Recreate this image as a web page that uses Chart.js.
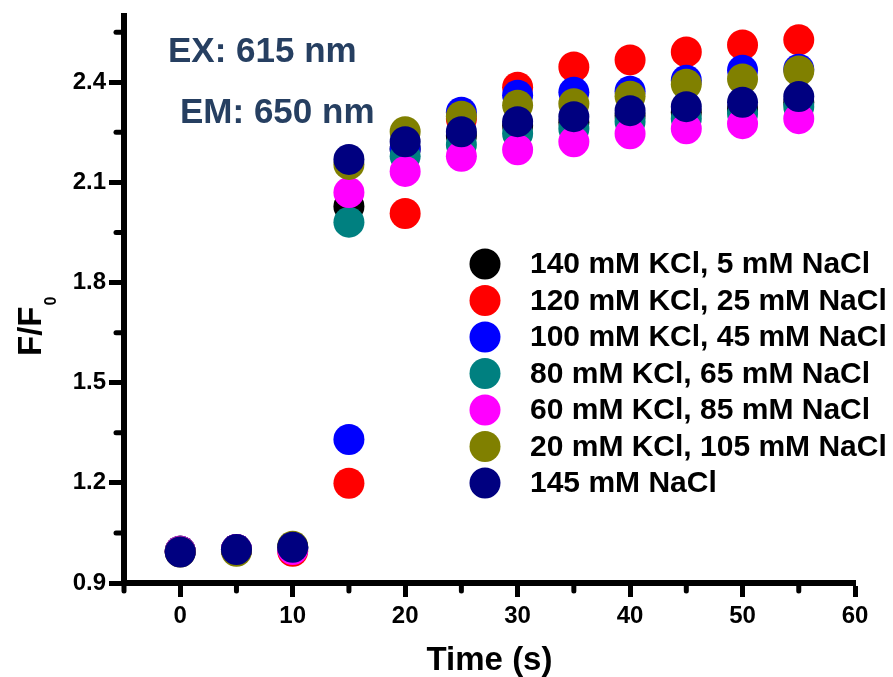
<!DOCTYPE html>
<html>
<head>
<meta charset="utf-8">
<script src="https://cdn.jsdelivr.net/npm/chart.js@4.4.0/dist/chart.umd.min.js"></script>
<style>
  html, body { margin: 0; padding: 0; background: #fff; }
  #wrap { width: 893px; height: 677px; }
</style>
</head>
<body>
<div id="wrap"><canvas id="myChart" width="893" height="677"></canvas></div>
<script>
// data
const times = [0, 5, 10, 15, 20, 25, 30, 35, 40, 45, 50, 55];

const seriesLabels = [
  '140 mM KCl, 5 mM NaCl',
  '120 mM KCl, 25 mM NaCl',
  '100 mM KCl, 45 mM NaCl',
  '80 mM KCl, 65 mM NaCl',
  '60 mM KCl, 85 mM NaCl',
  '20 mM KCl, 105 mM NaCl',
  '145 mM NaCl'
];
const seriesColors = ['#000000', '#ff0000', '#0000ff', '#008080', '#ff00ff', '#808000', '#000080'];

const kcl140 = [0.995, 1.0, 1.005, 2.028, 2.2, 2.24, 2.27, 2.28, 2.3, 2.31, 2.32, 2.34];
const kcl120 = [0.995, 1.0, 0.995, 1.199, 2.007, 2.29, 2.385, 2.446, 2.467, 2.491, 2.512, 2.527];
const kcl100 = [0.995, 1.0, 1.005, 1.33, 2.2, 2.31, 2.361, 2.37, 2.373, 2.406, 2.436, 2.439];
const kcl80 = [0.995, 1.0, 1.005, 1.981, 2.178, 2.213, 2.246, 2.261, 2.282, 2.291, 2.306, 2.327];
const kcl60 = [0.995, 1.0, 1.0, 2.07, 2.133, 2.178, 2.198, 2.222, 2.246, 2.261, 2.276, 2.291];
const kcl20 = [0.993, 0.995, 1.01, 2.154, 2.252, 2.298, 2.331, 2.336, 2.358, 2.394, 2.41, 2.434];
const nacl145 = [0.993, 1.0, 1.007, 2.169, 2.222, 2.252, 2.282, 2.297, 2.315, 2.327, 2.34, 2.357];

const seriesValues = [kcl140, kcl120, kcl100, kcl80, kcl60, kcl20, nacl145];

const xTickValues = [0, 10, 20, 30, 40, 50, 60];
const xMinorTicks = [-5, 5, 15, 25, 35, 45, 55];
const yTickValues = [0.9, 1.2, 1.5, 1.8, 2.1, 2.4];
const yMinorTicks = [1.05, 1.35, 1.65, 1.95, 2.25, 2.55];

const FONT = '"Liberation Sans", Arial, sans-serif';

//plugins
const minorTicks = {
  id: 'minorTicks',
  afterDraw(chart) {
    const { ctx, scales: { x, y }, chartArea } = chart;
    ctx.save();
    ctx.strokeStyle = '#000';
    ctx.lineWidth = 5;
    ctx.lineCap = 'round';
    xMinorTicks.forEach(v => {
      const px = x.getPixelForValue(v);
      ctx.beginPath();
      ctx.moveTo(px, chartArea.bottom);
      ctx.lineTo(px, chartArea.bottom + 8);
      ctx.stroke();
    });
    yMinorTicks.forEach(v => {
      const py = y.getPixelForValue(v);
      ctx.beginPath();
      ctx.moveTo(chartArea.left, py);
      ctx.lineTo(chartArea.left - 8, py);
      ctx.stroke();
    });
    ctx.restore();
  }
};

const extraText = {
  id: 'extraText',
  afterDraw(chart) {
    const ctx = chart.ctx;
    ctx.save();
    // wavelength notes
    ctx.fillStyle = '#263f61';
    ctx.font = 'bold 35px ' + FONT;
    ctx.textBaseline = 'alphabetic';
    ctx.textAlign = 'left';
    ctx.fillText('EX: 615 nm', 168, 62);
    ctx.fillText('EM: 650 nm', 180, 123);

    // y axis title with subscript
    ctx.fillStyle = '#000';
    ctx.translate(41, 356);
    ctx.rotate(-Math.PI / 2);
    ctx.font = 'bold 33px ' + FONT;
    ctx.fillText('F/F', 0, 0);
    const w = ctx.measureText('F/F').width;
    ctx.font = 'bold 16px ' + FONT;
    ctx.fillText('0', w + 1, 15);
    ctx.restore();

    // legend
    ctx.save();
    ctx.font = 'bold 30px ' + FONT;
    ctx.textBaseline = 'middle';
    chart.data.datasets.forEach((ds, i) => {
      const rowY = 264 + i * 36.5;
      ctx.fillStyle = ds.backgroundColor;
      ctx.beginPath();
      ctx.arc(485, rowY, 15.5, 0, Math.PI * 2);
      ctx.fill();
      ctx.fillStyle = '#000';
      ctx.fillText(ds.label, 530, rowY + 1);
    });
    ctx.restore();
  }
};

const datasets = seriesLabels.map((label, i) => ({
  label: label,
  data: times.map((t, j) => ({ x: t, y: seriesValues[i][j] })),
  backgroundColor: seriesColors[i],
  borderWidth: 0,
  pointRadius: 15.5,
  pointHoverRadius: 15.5,
  order: seriesLabels.length - i,
  clip: false
}));

new Chart(document.getElementById('myChart'), {
  type: 'scatter',
  data: { datasets },
  options: {
    responsive: false,
    animation: false,
    devicePixelRatio: 1,
    layout: { padding: { top: 13, right: 38, left: 0, bottom: 0 } },
    plugins: {
      legend: { display: false },
      tooltip: { enabled: false }
    },
    scales: {
      x: {
        type: 'linear',
        min: -5,
        max: 60,
        border: { display: true, width: 6, color: '#000' },
        grid: { drawOnChartArea: false, drawTicks: true, tickLength: 14, tickWidth: 5, tickColor: '#000' },
        ticks: {
          color: '#000',
          padding: 5,
          font: { family: FONT, size: 24, weight: 'bold' }
        },
        title: {
          display: true,
          text: 'Time (s)',
          color: '#000',
          font: { family: FONT, size: 33, weight: 'bold', lineHeight: 1 },
          padding: { top: 0, bottom: 0 }
        },
        afterBuildTicks: scale => { scale.ticks = xTickValues.map(v => ({ value: v })); },
        afterFit: scale => {
          scale.height = 94;
          scale.paddingLeft = 0;
          scale.paddingRight = 0;
        }
      },
      y: {
        type: 'linear',
        min: 0.9,
        max: 2.6,
        border: { display: true, width: 6, color: '#000' },
        grid: { drawOnChartArea: false, drawTicks: true, tickLength: 15, tickWidth: 5, tickColor: '#000' },
        ticks: {
          color: '#000',
          padding: 3,
          font: { family: FONT, size: 24, weight: 'bold' },
          callback: v => v.toFixed(1)
        },
        afterBuildTicks: scale => { scale.ticks = yTickValues.map(v => ({ value: v })); },
        afterFit: scale => {
          scale.width = 124;
          scale.paddingTop = 0;
          scale.paddingBottom = 0;
        }
      }
    }
  },
  plugins: [minorTicks, extraText]
});
</script>
</body>
</html>
